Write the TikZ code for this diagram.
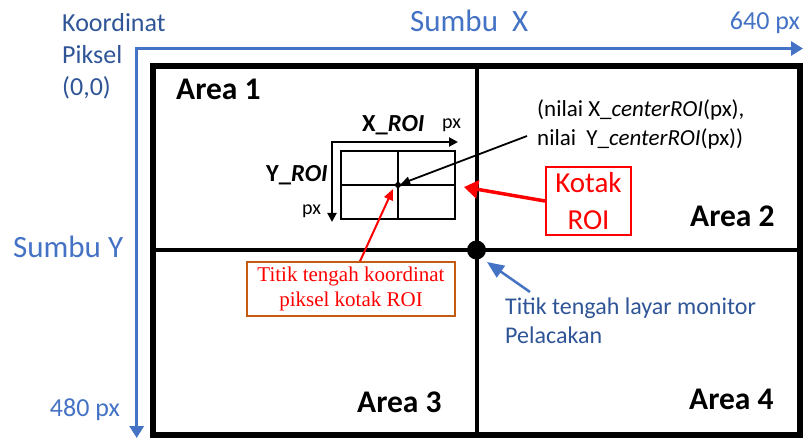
\documentclass[tikz,border=0pt]{standalone}
\usepackage{fontspec}
\setmainfont{Carlito}
\newfontfamily\timesfont{Liberation Serif}
\usetikzlibrary{arrows.meta,calc}
\definecolor{axisblue}{HTML}{4472C4}
\definecolor{textblue}{HTML}{2F5597}
\definecolor{labelorange}{HTML}{C55A11}
\newcommand\setfs[2]{\fontsize{#1}{#2}\selectfont}

\begin{document}
\begin{tikzpicture}[x=1pt,y=-1pt,
  lbl/.style={inner sep=0pt, anchor=base west},
  lble/.style={inner sep=0pt, anchor=base east},
  axis/.style={axisblue, line width=3.5pt, -{Triangle[length=12pt,width=14pt]}},
  arealbl/.style={lbl, font=\bfseries\setfs{31.5}{36}},
  roilbl/.style={lbl, font=\setfs{20}{24}},
  roiname/.style={lbl, font=\bfseries\setfs{24.5}{28}},
  bluelbl/.style={lbl, text=textblue, font=\setfs{26}{32}},
  axislbl/.style={text=axisblue, font=\setfs{31}{36}},
  ]
\useasboundingbox (0,0) rectangle (803,438);

% pixel coordinate axes
\coordinate (xstart) at (135,48.5);
\coordinate (xtip) at (803,48.5);
\coordinate (ystart) at (136.7,47);
\coordinate (ytip) at (136.7,438);
\draw[axis] (xstart) -- (xtip);
\draw[axis] (ystart) -- (ytip);

\node[bluelbl] (k1) at (62,32) {Koordinat};
\node[bluelbl] (k2) at (62,64) {Piksel};
\node[bluelbl] (k3) at (62,96) {(0,0)};
\node[lbl, axislbl] (sx) at (410,32) {Sumbu\ \ X};
\node[lble, text=axisblue, font=\setfs{26}{32}] (w640) at (800,30) {640 px};
\node[lbl, axislbl] (sy) at (13,258) {Sumbu Y};
\node[lble, text=axisblue, font=\setfs{26}{32}] (h480) at (120,416) {480 px};

% monitor screen split into four areas
\node[draw, line width=6pt, minimum width=647.5, minimum height=368.5, inner sep=0pt] (screen) at (476.25,250.75) {};
\node[circle, fill, inner sep=0pt, minimum size=19] (centre) at (476.5,250) {};
\draw[line width=4pt] (centre |- screen.north) -- (centre |- screen.south);
\draw[line width=4pt] (centre -| screen.west) -- (centre -| screen.east);

\node[arealbl] (a1) at (176,100) {Area 1};
\node[arealbl] (a2) at (690,227) {Area 2};
\node[arealbl] (a3) at (357,412) {Area 3};
\node[arealbl] (a4) at (689,409) {Area 4};

% region of interest box
\node[draw, line width=2pt, minimum width=114, minimum height=68, inner sep=0pt] (roi) at (398,185) {};
\draw[line width=1.2pt] (roi.north) -- (roi.south);
\draw[line width=1.2pt] (roi.west) -- (roi.east);
\node[circle, fill, inner sep=0pt, minimum size=6] (roic) at (roi.center) {};

\coordinate (lcorner) at (332,142);
\coordinate (lx) at (458,142);
\coordinate (ly) at (332,222);
\draw[line width=2pt, {Triangle[length=9pt,width=9pt]}-{Triangle[length=9pt,width=9pt]}] (ly) -- (lcorner) -- (lx);

\node[roiname] (xroi) at (362,132) {X\_\textit{ROI}};
\node[roilbl] (pxx) at (442,129) {px};
\node[roiname] (yroi) at (266,182) {Y\_\textit{ROI}};
\node[roilbl] (pxy) at (302,215) {px};

% centre value annotation
\node[lbl, font=\setfs{23}{28}] (n1) at (537,117) {(nilai X\_\textit{centerROI}(px),};
\node[lbl, font=\setfs{23}{28}] (n2) at (537,146) {nilai\ \ Y\_\textit{centerROI}(px))};
\coordinate (ptr) at (527,136);
\draw[line width=1.8pt, -{Triangle[length=9pt,width=8pt]}] (ptr) -- (roic);

% ROI box callout
\node[draw=red, line width=2pt, text=red, minimum width=85, minimum height=68, align=center, inner sep=0pt, font=\setfs{29}{37}] (kotak) at (588.5,201) {Kotak\\ROI};
\coordinate (roitip) at (464,187);
\draw[red, line width=3.5pt, -{Triangle[length=14pt,width=18pt]}] (kotak.west) -- (roitip);

% centre point callout
\node[draw=labelorange, line width=1.5pt, text=red, align=center, inner sep=0pt, minimum width=208, minimum height=54, font=\timesfont\setfs{21}{25}] (ctrlbl) at (351,289) {Titik tengah koordinat\\piksel kotak ROI};
\coordinate (ctrtip) at (393,189);
\draw[red, line width=2pt, -{Triangle[length=11pt,width=9pt]}] ([xshift=9pt]ctrlbl.north) -- (ctrtip);

% screen centre callout
\node[lbl, text=textblue, font=\setfs{24}{29}] (m1) at (505,314) {Titik tengah layar monitor};
\node[lbl, text=textblue, font=\setfs{24}{29}] (m2) at (505,343) {Pelacakan};
\coordinate (bstart) at (530,292);
\coordinate (btip) at (487,262);
\draw[axisblue, line width=2.5pt, -{Triangle[length=17pt,width=14pt]}] (bstart) -- (btip);
\end{tikzpicture}
\end{document}
